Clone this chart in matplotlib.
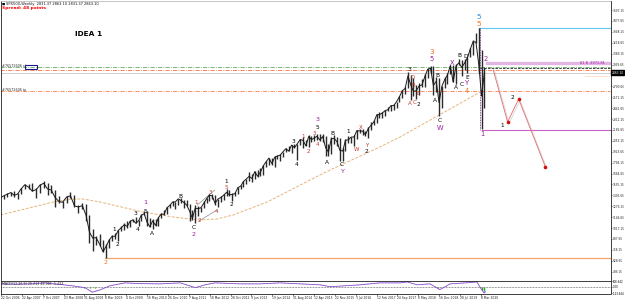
import numpy as np
import pandas as pd
import matplotlib
matplotlib.use("Agg")
import matplotlib.pyplot as plt
import matplotlib.patheffects as pe

# ---------------- data ----------------
date_labels = ["22 Oct 2006", "22 Apr 2007", "7 Oct 2007", "23 Mar 2008", "31 Aug 2008",
               "8 Mar 2009", "4 Oct 2009", "16 May 2010", "26 Dec 2010", "7 Aug 2011",
               "18 Mar 2012", "28 Oct 2012", "9 Jun 2013", "19 Jan 2014", "31 Aug 2014",
               "12 Apr 2015", "22 Nov 2015", "3 Jul 2016", "12 Feb 2017", "24 Sep 2017",
               "6 May 2018", "16 Dec 2018", "28 Jul 2019", "8 Mar 2020"]
bars_per_label = 32

months = pd.period_range("2006-10", "2020-04", freq="M")

monthly_close = [
    1377, 1400, 1418,
    1438, 1406, 1421, 1482, 1531, 1503, 1455, 1474, 1527, 1549, 1481, 1468,
    1378, 1331, 1323, 1386, 1400, 1280, 1267, 1283, 1166, 969, 896, 903,
    826, 735, 798, 873, 919, 919, 987, 1021, 1057, 1036, 1096, 1115,
    1074, 1104, 1169, 1187, 1089, 1031, 1102, 1049, 1141, 1183, 1181, 1258,
    1286, 1327, 1326, 1364, 1345, 1321, 1292, 1219, 1131, 1253, 1247, 1258,
    1312, 1366, 1408, 1398, 1310, 1362, 1379, 1407, 1441, 1412, 1416, 1426,
    1498, 1515, 1569, 1598, 1631, 1606, 1686, 1633, 1682, 1757, 1806, 1848,
    1783, 1859, 1872, 1884, 1924, 1960, 1931, 2003, 1972, 2018, 2068, 2059,
    1995, 2105, 2068, 2086, 2107, 2063, 2104, 1972, 1920, 2079, 2080, 2044,
    1940, 1932, 2060, 2065, 2097, 2099, 2174, 2171, 2168, 2126, 2199, 2239,
    2279, 2364, 2363, 2384, 2412, 2423, 2470, 2472, 2519, 2575, 2648, 2674,
    2824, 2714, 2641, 2648, 2705, 2718, 2816, 2902, 2914, 2712, 2760, 2507,
    2704, 2784, 2834, 2946, 2752, 2942, 2980, 2926, 2977, 3038, 3141, 3231,
    3226, 2954, 2585, 2863]
monthly_high = [
    1389, 1407, 1431,
    1441, 1461, 1439, 1498, 1535, 1540, 1556, 1497, 1538, 1576, 1552, 1523,
    1471, 1396, 1344, 1397, 1440, 1404, 1292, 1313, 1303, 1167, 1007, 919,
    943, 877, 832, 888, 930, 956, 996, 1039, 1080, 1101, 1113, 1130,
    1150, 1113, 1180, 1220, 1219, 1131, 1120, 1130, 1150, 1196, 1227, 1263,
    1302, 1344, 1332, 1367, 1371, 1346, 1356, 1307, 1230, 1293, 1277, 1269,
    1333, 1378, 1420, 1422, 1415, 1363, 1392, 1426, 1475, 1470, 1434, 1448,
    1509, 1530, 1570, 1598, 1687, 1654, 1698, 1709, 1730, 1766, 1813, 1849,
    1851, 1867, 1884, 1897, 1925, 1968, 1991, 2005, 2019, 2019, 2075, 2093,
    2064, 2120, 2114, 2126, 2135, 2130, 2133, 2113, 2021, 2094, 2117, 2104,
    2081, 1963, 2073, 2111, 2103, 2120, 2178, 2194, 2188, 2175, 2214, 2278,
    2301, 2371, 2401, 2398, 2418, 2454, 2484, 2491, 2519, 2582, 2657, 2695,
    2873, 2836, 2801, 2718, 2742, 2791, 2848, 2917, 2941, 2940, 2815, 2800,
    2708, 2814, 2861, 2949, 2955, 2964, 3028, 3014, 3022, 3050, 3154, 3248,
    3338, 3394, 3136, 2930]
monthly_low = [
    1331, 1360, 1385,
    1403, 1390, 1364, 1416, 1476, 1484, 1452, 1370, 1432, 1489, 1406, 1435,
    1270, 1317, 1256, 1313, 1373, 1272, 1200, 1248, 1106, 839, 741, 815,
    805, 735, 666, 783, 866, 888, 869, 979, 992, 1020, 1029, 1086,
    1071, 1045, 1101, 1170, 1040, 1028, 1011, 1040, 1039, 1131, 1174, 1187,
    1257, 1282, 1249, 1295, 1311, 1258, 1282, 1101, 1114, 1075, 1158, 1202,
    1259, 1310, 1340, 1357, 1292, 1267, 1325, 1354, 1396, 1403, 1343, 1398,
    1426, 1485, 1501, 1536, 1581, 1560, 1605, 1627, 1633, 1646, 1746, 1767,
    1770, 1738, 1834, 1815, 1860, 1915, 1930, 1905, 1964, 1821, 2001, 1972,
    1988, 1981, 2039, 2048, 2067, 2056, 2044, 1867, 1872, 1893, 2020, 1993,
    1812, 1810, 1937, 2033, 2025, 1991, 2075, 2147, 2120, 2114, 2084, 2187,
    2245, 2267, 2322, 2328, 2344, 2405, 2407, 2417, 2447, 2520, 2566, 2605,
    2683, 2533, 2586, 2553, 2595, 2698, 2698, 2796, 2864, 2603, 2631, 2346,
    2444, 2681, 2723, 2848, 2751, 2729, 2952, 2822, 2891, 2856, 3050, 3070,
    3214, 2855, 2192, 2447]

# long moving average (bar index, price)
ma_bars = [-1, 80, 110, 126, 152, 218, 264, 305, 331, 356, 408, 489, 505, 581, 612, 735]
ma_values = [1172, 1326, 1362, 1362, 1326, 1207, 1148, 1113, 1124, 1172, 1326, 1647, 1707, 1980, 2099, 2633]

# price-axis tick labels
price_ticks = [3607.15, 3477.65, 3348.15, 3218.65, 3089.15, 2959.65, 2700.65, 2571.15,
               2441.65, 2312.15, 2182.65, 2053.15, 1923.65, 1794.15, 1664.65, 1535.15,
               1405.65, 1276.15, 1146.65, 1017.15, 887.65, 758.15, 628.65, 499.15]
current_price = 2863.10

# horizontal levels: (price, start bar, colour, style, width)
levels = [
    (3393.5, 733, "#5ec8f0", "-", 0.8),
    (2972.0, 745, "#e2b4e2", "-", 2.4),
    (2934.0, -1, "#5fa85f", (0, (5, 1.5, 1, 1.5)), 0.6),
    (2922.0, 735, "#202020", (0, (3, 1.5)), 0.6),
    (2891.0, -1, "#ff6a3a", (0, (5, 1.5, 1, 1.5)), 0.6),
    (2862.3, -1, "#c8c8c8", "-", 0.6),
    (2823.0, 896, "#ffb48a", (0, (1, 1)), 0.6),
    (2645.0, -1, "#ff7a4a", (0, (5, 1.5, 1, 1.5)), 0.6),
    (2182.0, 738, "#c864c8", "-", 0.8),
    (667.0, 160, "#f4a468", "-", 0.9),
]

# Elliott wave labels: (text, bar, price, colour, size)
BLK, PUR, RED, ORG, BLU = "#000000", "#9a1a9a", "#c0392b", "#f07020", "#2a8fe0"
wave_labels = [
    ("1", 173, 994, BLK, 4.2), ("2", 178, 827, BLK, 4.2), ("3", 206, 1184, BLK, 4.2),
    ("4", 210, 994, BLK, 4.2), ("1", 221, 1326, PUR, 4.6), ("5", 221, 1219, BLK, 4.2),
    ("A", 232, 958, BLK, 4.2), ("B", 275, 1386, BLK, 4.2), ("C", 296, 1029, BLK, 4.2),
    ("2", 296, 946, PUR, 4.6), ("1", 299, 1326, RED, 4.0), ("2", 304, 1112, RED, 4.0),
    ("3", 321, 1445, RED, 4.0), ("4", 331, 1219, RED, 4.0), ("5", 345, 1493, RED, 4.0),
    ("1", 345, 1570, BLK, 4.2), ("2", 354, 1302, BLK, 4.2), ("2", 160, 602, ORG, 4.6),
    ("3", 448, 2051, BLK, 4.2), ("4", 454, 1766, BLK, 4.2), ("1", 463, 2110, RED, 4.0),
    ("2", 471, 1932, RED, 4.0), ("3", 480, 2146, RED, 4.0), ("4", 485, 2015, RED, 4.0),
    ("3", 486, 2305, PUR, 4.6), ("5", 486, 2217, BLK, 4.2), ("B", 509, 2146, BLK, 4.2),
    ("A", 500, 1790, BLK, 4.2), ("C", 523, 1766, BLK, 4.2), ("Y", 523, 1690, PUR, 4.6),
    ("1", 532, 2158, BLK, 4.2), ("W", 545, 1956, RED, 4.0), ("X", 551, 2217, RED, 4.0),
    ("Y", 561, 1995, RED, 4.0), ("2", 561, 1925, BLK, 4.2),
    ("3", 661, 3108, ORG, 5.2), ("5", 661, 3030, PUR, 4.8), ("3", 626, 2906, BLK, 4.2),
    ("A", 627, 2502, RED, 4.0), ("D", 632, 2811, RED, 4.0), ("B", 632, 2716, RED, 4.0),
    ("C", 635, 2514, RED, 4.0), ("E", 640, 2621, RED, 4.0), ("2", 641, 2490, BLK, 4.2),
    ("B", 670, 2835, BLK, 4.2), ("A", 666, 2538, BLK, 4.2), ("C", 673, 2295, BLK, 4.2),
    ("W", 673, 2210, PUR, 4.8), ("X", 692, 2978, PUR, 4.8), ("B", 703, 3061, BLK, 4.2),
    ("D", 712, 3049, BLK, 4.2), ("A", 698, 2681, BLK, 4.2), ("C", 706, 2728, BLK, 4.2),
    ("E", 715, 2805, BLK, 4.2), ("Y", 715, 2735, PUR, 4.8), ("4", 715, 2645, ORG, 4.8),
    ("2", 744, 3025, PUR, 4.8), ("1", 738, 2134, PUR, 4.8), ("5", 733, 3524, BLU, 5.4),
    ("5", 733, 3441, ORG, 5.4), ("1", 769, 2241, BLK, 4.2), ("2", 785, 2562, BLK, 4.2),
]

# small channel lines (bar0, price0, bar1, price1)
channel_lines = [(301, 1291, 328, 1469), (304, 1101, 331, 1231)]

# projected path
proj_bars = [755, 777, 794, 835]
proj_prices = [2895, 2277, 2550, 1742]

# oscillator panel
osc_bars = [0, 21, 44, 67, 90, 109, 129, 140, 152, 167, 190, 213, 244, 275, 298, 313, 328,
            367, 397, 428, 459, 489, 505, 528, 551, 581, 612, 623, 638, 658, 673, 689, 712,
            730, 737, 741, 743]
osc_values = [55, 50, 55, 74, 45, 18, -18, -105, -60, 18, 74, 60, 55, 74, -18, 37, 74,
              55, 55, 74, 55, 37, 0, 18, 37, 74, 74, 92, 37, 55, -55, 55, 74,
              92, -55, -120, -95]
hist_bars = [120, 128, 136, 144, 152, 296, 300, 500, 505, 510, 670, 674, 738, 741]
hist_values = [-8, -15, -25, -20, -10, -10, -8, -10, -12, -8, -15, -12, -60, -80]
osc_ticks = [106.642, 0.0, -123.644]

# ---------------- layout helpers ----------------
W, H = 625, 301
fig = plt.figure(figsize=(W / 100, H / 100), dpi=100)
fig.patch.set_facecolor("white")


def px_axes(x0, y0, x1, y1):
    return fig.add_axes([x0 / W, 1 - y1 / H, (x1 - x0) / W, (y1 - y0) / H])


label_dt = pd.to_datetime(date_labels, format="%d %b %Y")
label_days = (label_dt - label_dt[0]).days.values.astype(float)
label_bars = np.arange(len(date_labels)) * bars_per_label


def to_bar(dts):
    d = (pd.DatetimeIndex(dts) - label_dt[0]).days.values.astype(float)
    b = np.interp(d, label_days, label_bars)
    b = np.where(d > label_days[-1], label_bars[-1] + (d - label_days[-1]) / 7.0, b)
    b = np.where(d < 0, d / 7.0, b)
    return b


XLIM = (-0.77, -0.77 + 610 / 0.652)
ax = px_axes(0.5, 0.5, 610.5, 280.5)
ax.set_xlim(*XLIM)
ax.set_ylim(393.8, 3720.2)
for s in ax.spines.values():
    s.set_color("#202020")
    s.set_linewidth(0.6)
ax.spines["top"].set_color("#bbbbbb")

# price bars
mdates = months.to_timestamp() + pd.Timedelta(days=14)
mb = to_bar(mdates)
ax.vlines(mb, monthly_low, monthly_high, color="#2a2a2a", lw=1.0, zorder=3)
ax.plot(mb, monthly_close, color="#1a1a1a", lw=0.7, zorder=3)

# moving average
ax.plot(ma_bars, ma_values, color="#e6b47a", lw=0.7, ls=(0, (3, 1.5)), zorder=2)

# levels
for price, start, col, ls, lw in levels:
    ax.plot([start, XLIM[1]], [price, price], color=col, ls=ls, lw=lw, zorder=1)

# vertical dotted line at the top
ax.plot([735, 735], [3393.5, 2182], color="#6a1a6a", lw=0.6, ls=(0, (1, 1)), zorder=2)

# channel lines
for b0, p0, b1, p1 in channel_lines:
    ax.plot([b0, b1], [p0, p1], color="#707070", lw=0.4, zorder=2)

# projection
ax.plot(proj_bars, proj_prices, color="#e46a6a", lw=0.6, zorder=4,
        path_effects=[pe.SimpleLineShadow(offset=(1.0, -1.0), shadow_color="#aaaaaa", alpha=0.5),
                      pe.Normal()])
ax.plot(proj_bars[1:], proj_prices[1:], ls="none", marker="o", ms=1.6, color="#d01010", zorder=5)

# wave labels
for txt, b, p, col, fs in wave_labels:
    ax.text(b, p, txt, color=col, fontsize=fs, ha="center", va="center", zorder=6)

# texts on chart
ax.text(926, 2972, "61.8  2971.81", color="#9a1a9a", fontsize=2.6, ha="right", va="center")
fig.text(6 / W, 1 - 3.5 / H, "SPX500,Weekly  2831.37 2863.10 2831.37 2863.10",
         fontsize=2.6, va="center", ha="left", color="#111111")
fig.text(1.5 / W, 1 - 3.5 / H, "\u25a0", fontsize=2.4, va="center", ha="left", color="#000000")
fig.text(2 / W, 1 - 8.5 / H, "Spread: 48 points", fontsize=3.2, fontweight="bold",
         va="center", ha="left", color="#ff0000")
fig.text(75 / W, 1 - 34 / H, "IDEA 1", fontsize=5.3, fontweight="bold",
         va="center", ha="left", color="#000000")
fig.text(2 / W, 1 - 66.5 / H, "#76572606 sl", fontsize=2.4, va="center", ha="left", color="#333333")
fig.text(2 / W, 1 - 90.5 / H, "#76572606 tp", fontsize=2.4, va="center", ha="left", color="#333333")
fig.patches.append(plt.Rectangle((25 / W, 1 - 69 / H), 12 / W, 4.5 / H, transform=fig.transFigure,
                                 fill=False, edgecolor="#1a1a8a", lw=0.8))

# y axis on right
ax.yaxis.tick_right()
ax.set_yticks(price_ticks)
ax.set_yticklabels([f"{v:.2f}" for v in price_ticks])
ax.tick_params(axis="y", labelsize=2.05, length=1.0, width=0.4, pad=0.4, colors="#222222")
ax.tick_params(axis="x", bottom=False, labelbottom=False)
ax.text(1.0015, current_price, f"{current_price:.2f}", transform=ax.get_yaxis_transform(),
        fontsize=2.05, color="white", ha="left", va="center",
        bbox=dict(boxstyle="square,pad=0.12", fc="black", ec="black"))

# oscillator panel
ax2 = px_axes(0.5, 281, 610.5, 293.5)
ax2.set_xlim(*XLIM)
ax2.set_ylim(-130, 110)
for s in ax2.spines.values():
    s.set_color("#202020")
    s.set_linewidth(0.6)
ax2.axhline(0, color="#333333", lw=0.5, ls=(0, (1, 1.2)))
ax2.vlines(hist_bars, 0, hist_values, color="#2ca02c", lw=1.0)
ax2.plot(osc_bars, osc_values, color="#6a5cff", lw=0.6)
ax2.plot(osc_bars, osc_values, color="#ff4040", lw=0.4, ls=(0, (1, 1.5)))
ax2.text(2, 100, "MACD(12,26,9) 25.213 48.981 -1.432", fontsize=2.3, va="top", ha="left",
         color="#222222")
ax2.yaxis.tick_right()
ax2.set_yticks(osc_ticks)
ax2.set_yticklabels(["106.642", "0.00", "-123.644"])
ax2.tick_params(axis="y", labelsize=1.9, length=1.0, width=0.4, pad=0.4)
ax2.set_xticks(label_bars)
ax2.set_xticklabels(date_labels, ha="left")
ax2.tick_params(axis="x", labelsize=2.2, length=1.2, width=0.4, pad=0.6, colors="#222222")

fig.savefig("out.png", dpi=100, facecolor="white")
